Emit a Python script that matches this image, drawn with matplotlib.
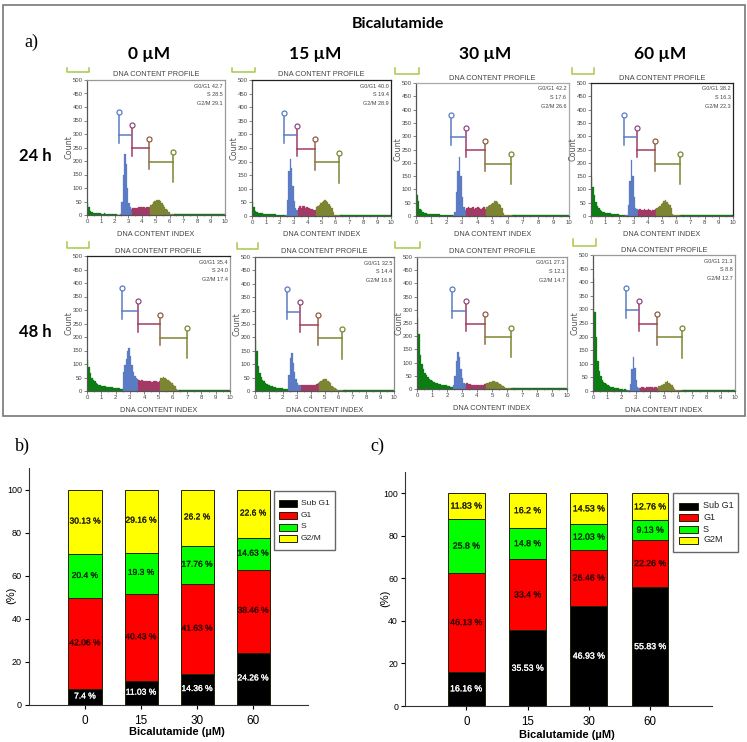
import matplotlib
matplotlib.use('Agg')
import matplotlib.pyplot as plt
import matplotlib.patheffects as pe
from matplotlib.lines import Line2D
from matplotlib.patches import Rectangle
import numpy as np

W,H = 747,742

##histogram counts, one bin per 0.1 of DNA content index, starting at 0
p1 = [45,28,14,11,9,8,7,7,6,6, 5,5,6,5,4,4,5,4,3,3, 2,2,1,1,3,50,150,225,190,100,
	45,28,24,25,26,27,26,28,29,28, 30,28,26,28,30,28,36,42,50,52, 56,57,54,52,46,38,30,24,20,10, 5,3,2,2,2]
p2 = [52,34,18,14,12,11,10,10,9,8, 8,7,7,7,6,6,6,5,5,5, 4,4,3,3,5,60,165,210,175,110,
	55,30,22,30,38,30,38,36,28,34, 28,30,24,26,22,22,32,38,42,46, 50,54,60,54,50,44,36,28,14,5, 3,2,2,2,2]
p3 = [80,55,28,22,16,12,10,9,8,8, 8,7,7,6,6,6,5,5,5,4, 4,4,3,3,3,15,90,170,220,150,
	70,32,22,30,32,30,30,32,28,30, 32,30,28,30,32,28,34,38,40,46, 50,58,56,52,46,42,30,12,5,3, 2,2,2,2,2]
p4 = [145,110,80,52,36,30,24,20,16,14, 13,12,11,10,9,8,8,7,7,6, 5,4,3,2,2,5,40,130,210,150,
	70,30,25,24,26,22,24,25,24,22, 26,22,20,24,24,26,30,34,38,46, 50,56,60,52,46,42,30,8,3,2, 2,2,2,2,2]
p5 = [115,90,66,50,42,36,30,26,24,22, 20,18,17,16,15,14,13,14,12,12, 11,10,10,9,9,70,95,120,150,160,
	130,95,70,55,48,45,40,38,40,38, 38,36,38,36,36,35,36,36,38,34, 36,48,50,52,48,44,42,36,34,30, 24,18,8,3,2]
p6 = [190,150,95,68,54,42,36,30,26,24, 22,20,18,16,14,13,12,12,11,10, 9,8,8,7,60,125,140,105,70,45,
	28,24,22,22,24,22,24,22,24,22, 22,24,22,24,26,30,34,36,40,44, 44,46,38,32,28,20,16,12,6,3, 2,2,2,2,2]
p7 = [270,210,130,95,75,60,52,44,38,34, 30,27,24,22,20,18,17,16,15,14, 13,10,8,6,15,50,105,140,120,75,
	40,24,20,22,20,18,16,16,14,16, 14,16,14,16,15,18,22,24,26,28, 30,32,28,26,22,20,16,12,8,4, 2,2,2,2,2]
p8 = [410,290,200,110,75,55,42,34,28,24, 22,18,16,14,14,12,10,10,8,8, 6,5,6,4,3,3,25,80,125,85,
	40,16,12,12,14,14,12,14,16,14, 16,14,12,16,14,12,18,20,22,24, 26,32,36,30,24,22,14,8,4,2, 2,2,2,2,2]
hist_counts = [p1,p2,p3,p4,p5,p6,p7,p8]
tail_count = 2

##gate boundaries
gates_usual = [2.32,3.25,4.52,6.25]
gates_48h_0 = [2.45,3.6,5.1,7.0]

##percentages printed in the panels
g1_vals = ['42.7','40.0','42.2','38.2','35.4','32.5','27.3','21.3']
s_vals = ['28.5','19.4','17.6','16.3','24.0','14.4','12.1','8.8']
g2m_vals = ['29.1','28.9','26.6','22.3','17.4','16.8','14.7','12.7']

doses = ['0','15','30','60']
doses_head = ['0 µM','15 µM','30 µM','60 µM']
phases = ['Sub G1','G1','S','G2/M']
phases_c = ['Sub G1','G1','S','G2M']

sub_b = [7.4,11.03,14.36,24.26]
g1_b = [42.06,40.43,41.63,38.46]
s_b = [20.4,19.3,17.76,14.63]
g2_b = [30.13,29.16,26.2,22.6]

sub_c = [16.16,35.53,46.93,55.83]
g1_c = [46.13,33.4,26.46,22.26]
s_c = [25.8,14.8,12.03,9.13]
g2_c = [11.83,16.2,14.53,12.76]

##panel boxes in pixels: left,right,top,bottom
boxes = [(87,224.5,80,215),(252,391,80,216),(416,568.5,83,216),(591,733,83,216),
	(87,230,256,391),(255,394,257,391),(417,567,257,389),(593,735,255,391)]
##the small green brackets: left,right,top,bottom
brackets = [(67,89,68,72),(232,255,68,72),(395,419,68,74),(572,594,68,74),
	(67,89,242,248),(237,258,243,249),(395,420,242,248),(573,596,239,246)]
frame_colors = ['#999999','#222222','#aaaaaa','#222222','#999999','#888888','#999999','#999999']
top_colors = ['#999999','#222222','#aaaaaa','#222222','#222222','#666666','#999999','#999999']

GREEN = '#0b7d12'
BLUE = '#5b7cc4'
RED = '#a33a66'
OLIVE = '#7d8532'
FILLS = ['black','#ff0000','#00ff00','#ffff00']

fig = plt.figure(figsize=(W/100,H/100),dpi=100)

def px_text(x,y,s,**kw):
	kw.setdefault('ha','center')
	kw.setdefault('va','center')
	return fig.text(x/W,1-y/H,s,**kw)

def px_axes(l,r,t,b):
	return fig.add_axes([l/W,1-b/H,(r-l)/W,(b-t)/H])

##outer frame of panel a
fig.add_artist(Rectangle((3/W,1-416/H),742/W,411/H,transform=fig.transFigure,fill=False,ec='#777777',lw=1.2))

px_text(398,24,'Bicalutamide',family=['Lato','DejaVu Sans'],weight='bold',fontsize=11.5)
px_text(31,42,'a)',family='Liberation Serif',fontsize=13)
px_text(22,446,'b)',family='Liberation Serif',fontsize=13)
px_text(377,446,'c)',family='Liberation Serif',fontsize=13)
for x,s in zip([149,315,485,660],doses_head):
	px_text(x,54,s,family=['Lato','DejaVu Sans'],weight='bold',fontsize=12.5)
px_text(35,156,'24 h',family=['Lato','DejaVu Sans'],weight='bold',fontsize=12)
px_text(35,332,'48 h',family=['Lato','DejaVu Sans'],weight='bold',fontsize=12)

##DNA content histograms
for i,box in enumerate(boxes):
	ax = px_axes(*box)
	counts = hist_counts[i]
	gates = gates_48h_0 if i == 4 else gates_usual
	x = np.arange(len(counts))*0.1
	##the histogram changes colour at each gate
	cuts = [0]+[int(np.searchsorted(x,g)) for g in gates]+[len(counts)]
	seg_colors = [GREEN,BLUE,RED,OLIVE,GREEN]
	for k in range(5):
		a,b_ = cuts[k],cuts[k+1]
		if b_ <= a:
			continue
		xs = list(x[a:b_])+[x[b_-1]+0.1]
		ys = counts[a:b_]+[counts[b_-1]]
		ax.fill_between(xs,ys,0,step='post',color=seg_colors[k],lw=0.2)
	ax.plot([x[-1],10],[tail_count,tail_count],color=GREEN,lw=1)
	ax.set_xlim(0,10)
	ax.set_ylim(0,500)
	ax.set_xticks(range(0,11))
	ax.set_yticks(range(0,501,50))
	ax.set_xticks(np.arange(0,10,0.5),minor=True)
	ax.tick_params(which='major',length=2,width=0.5,color='#555555',labelsize=4.3,labelcolor='#444444',pad=1.2)
	ax.tick_params(which='minor',length=1,width=0.4,color='#555555')
	for lab in ax.get_xticklabels()+ax.get_yticklabels():
		lab.set_family('Liberation Sans')
	for name,sp in ax.spines.items():
		sp.set_color(frame_colors[i])
		sp.set_linewidth(0.9)
	ax.spines['top'].set_color(top_colors[i])
	ax.spines['bottom'].set_color('#555555')
	ax.spines['left'].set_color('#555555')
	##gates
	ring_y = [380,332,283,232]
	low_y = [268,220,170,121]
	bar_y = [296,247,197]
	ring_c = [BLUE,'#8a4a80','#8f5a42',OLIVE]
	line_c = [BLUE,RED,'#8f6a50',OLIVE]
	for k in range(4):
		ax.plot([gates[k],gates[k]],[low_y[k],ring_y[k]],color=line_c[k],lw=1.1)
		ax.plot(gates[k],ring_y[k],'o',ms=3.6,mfc='white',mec=ring_c[k],mew=0.9)
	for k in range(3):
		ax.plot([gates[k],gates[k+1]],[bar_y[k],bar_y[k]],color=[BLUE,RED,OLIVE][k],lw=1.1)
	##stats
	ax.text(0.985,0.955,'G0/G1 '+g1_vals[i],transform=ax.transAxes,ha='right',va='center',fontsize=4,family='Liberation Sans',color='#444444')
	ax.text(0.985,0.89,'S '+s_vals[i],transform=ax.transAxes,ha='right',va='center',fontsize=4,family='Liberation Sans',color='#444444')
	ax.text(0.985,0.825,'G2/M '+g2m_vals[i],transform=ax.transAxes,ha='right',va='center',fontsize=4,family='Liberation Sans',color='#444444')
	##labels
	l,r,t,b = box
	px_text((l+r)/2,t-5,'DNA CONTENT PROFILE',fontsize=5.3,family='Liberation Sans',color='#444444')
	px_text((l+r)/2,b+19,'DNA CONTENT INDEX',fontsize=5.3,family='Liberation Sans',color='#444444')
	px_text(l-18,(t+b)/2,'Count',fontsize=5.8,rotation=90,family='DejaVu Sans',color='#555555')
	##green bracket
	bl,br,bt,bb = brackets[i]
	fig.add_artist(Line2D([bl/W,bl/W,br/W,br/W],[1-bt/H,1-bb/H,1-bb/H,1-bt/H],color='#a8c94a',lw=1.1))

##stacked bars
def stacked(box,cols,names,xright,tick_fs,lab_fs,width,xlabel_y,ylabel_x):
	l,r,t,b = box
	ax = px_axes(l,r,t,b)
	x = np.arange(len(doses))
	bottom = np.zeros(len(doses))
	txt = ['white','#3a0000','#06300a','#222200']
	for vals,c,tc in zip(cols,FILLS,txt):
		ax.bar(x,vals,width,bottom=bottom,color=c,edgecolor='#222200',lw=0.7)
		for xi,bi,v in zip(x,bottom,vals):
			ax.text(xi,bi+v/2,'{} %'.format(v),ha='center',va='center',fontsize=lab_fs,family='Liberation Sans',color=tc,
				path_effects=[pe.withStroke(linewidth=0.2,foreground=tc)])
		bottom = bottom+np.array(vals)
	ax.set_xlim(-1,xright)
	ax.set_ylim(0,110)
	ax.set_yticks(range(0,101,20))
	ax.set_xticks(x)
	ax.set_xticklabels(doses,fontsize=tick_fs+2,family='Liberation Sans')
	ax.tick_params(axis='y',labelsize=tick_fs,length=3,width=0.8,pad=2)
	ax.tick_params(axis='x',length=3,width=0.8,pad=4)
	for lab in ax.get_yticklabels():
		lab.set_family('Liberation Sans')
	ax.spines['top'].set_visible(False)
	ax.spines['right'].set_visible(False)
	ax.spines['left'].set_color('#333333')
	ax.spines['bottom'].set_color('#333333')
	px_text((l+r)/2+8,xlabel_y,'Bicalutamide (µM)',family='Liberation Sans',weight='bold',fontsize=8)
	px_text(ylabel_x,(t+b)/2+9,'(%)',family='Liberation Sans',rotation=90,fontsize=8)
	return ax

##legend, drawn as a white box with colour swatches
def legend_box(box,ys,hx0,hx1,tx,names,fs):
	x0,y0,x1,y1 = box
	fig.add_artist(Rectangle((x0/W,1-y1/H),(x1-x0)/W,(y1-y0)/H,transform=fig.transFigure,fc='white',ec='#666666',lw=1,zorder=5))
	for y,c,n in zip(ys,FILLS,names):
		fig.add_artist(Rectangle((hx0/W,1-(y+3.5)/H),(hx1-hx0)/W,7/H,transform=fig.transFigure,fc=c,ec='#222200',lw=0.7,zorder=6))
		px_text(tx,y,n,ha='left',fontsize=fs,family='Liberation Sans',color='#222222',zorder=6)

stacked((29,308,468,705),[sub_b,g1_b,s_b,g2_b],phases,3.98,6.5,6.1,0.59,732,11)
stacked((405,712,472,706),[sub_c,g1_c,s_c,g2_c],phases_c,4.01,6.3,6.3,0.6,735,385)
legend_box((274,491,335,550),[503.7,515.7,527,538.7],279,297,301,phases,6.1)
legend_box((673,493,738,552),[506,517,529,540],679,698,703,phases_c,6.5)

plt.savefig('out.png',dpi=100)
